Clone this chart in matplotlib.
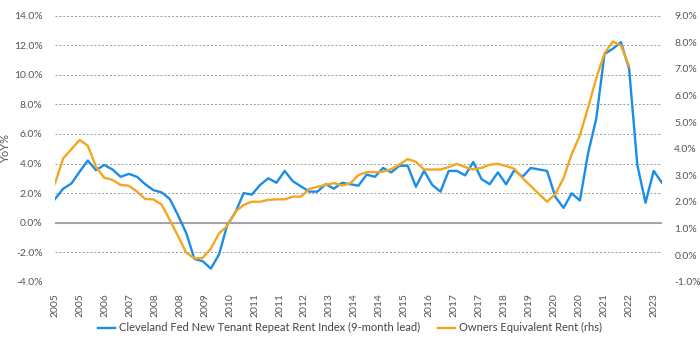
import numpy as np
import matplotlib
matplotlib.use('Agg')
import matplotlib.pyplot as plt
import matplotlib.ticker as ticker

# quarterly series
cleveland_fed = [1.6, 2.3, 2.65, 3.45, 4.2, 3.55, 3.9, 3.6, 3.1, 3.3,
                 3.1, 2.6, 2.2, 2.05, 1.6, 0.5, -0.7, -2.45, -2.6, -3.1,
                 -2.15, -0.15, 0.7, 2.0, 1.9, 2.55, 3.0, 2.7, 3.5, 2.8,
                 2.45, 2.1, 2.1, 2.6, 2.3, 2.7, 2.6, 2.5, 3.25, 3.1,
                 3.7, 3.4, 3.85, 3.85, 2.43, 3.5, 2.55, 2.1, 3.5, 3.5,
                 3.2, 4.1, 2.95, 2.6, 3.4, 2.6, 3.55, 3.1, 3.7, 3.6,
                 3.5, 1.75, 1.0, 1.98, 1.5, 4.7, 7.05, 11.4, 11.75, 12.2,
                 10.4, 3.9, 1.35, 3.5, 2.7]
oer = [2.7, 3.64, 3.98, 4.33, 4.11, 3.32, 2.91, 2.83, 2.64, 2.61,
       2.39, 2.11, 2.1, 1.9, 1.32, 0.72, 0.1, -0.12, -0.1, 0.25,
       0.82, 1.1, 1.64, 1.89, 2.01, 2.01, 2.08, 2.1, 2.1, 2.2,
       2.2, 2.49, 2.57, 2.64, 2.71, 2.62, 2.7, 3.01, 3.12, 3.12,
       3.14, 3.23, 3.41, 3.61, 3.51, 3.22, 3.22, 3.22, 3.31, 3.43,
       3.31, 3.22, 3.28, 3.4, 3.43, 3.35, 3.25, 2.9, 2.6, 2.3,
       2.01, 2.3, 2.89, 3.8, 4.5, 5.55, 6.65, 7.58, 8.02, 7.88,
       7.1]
year_labels = ['2005', '2005', '2006', '2007', '2008', '2008', '2009', '2010',
               '2011', '2011', '2012', '2013', '2014', '2014', '2015', '2016',
               '2017', '2017', '2018', '2019', '2020', '2020', '2021', '2022',
               '2023']

blue = '#1a8de6'
orange = '#f2a71e'
grey_text = '#555555'
plt.rcParams['font.family'] = ['Lato', 'DejaVu Sans']

fig = plt.figure(figsize=(7, 3.5), dpi=100)
ax = fig.add_axes([0.0786, 0.1946, 0.867, 0.761])
ax2 = ax.twinx()

x_blue = np.arange(len(cleveland_fed))
x_oer = np.arange(len(oer))
l1, = ax.plot(x_blue, cleveland_fed, color=blue, linewidth=1.7,
              label='Cleveland Fed New Tenant Repeat Rent Index (9-month lead)', zorder=3)
l2, = ax2.plot(x_oer, oer, color=orange, linewidth=1.7,
               label='Owners Equivalent Rent (rhs)', zorder=2)

ax.set_xlim(0, len(cleveland_fed) - 1)
ax.set_ylim(-4, 14)
ax2.set_ylim(-1, 9)
ax.yaxis.set_major_locator(ticker.MultipleLocator(2))
ax2.yaxis.set_major_locator(ticker.MultipleLocator(1))
ax.yaxis.set_major_formatter(ticker.FuncFormatter(lambda v, p: f'{v:.1f}%'))
ax2.yaxis.set_major_formatter(ticker.FuncFormatter(lambda v, p: f'{v:.1f}%'))

# year labels every ~9 months
ax.set_xticks(np.linspace(0, 73, len(year_labels)))
ax.set_xticklabels(year_labels, rotation=90)

ax.grid(axis='y', color='#9a9a9a', linestyle=(0, (2, 2)), linewidth=0.7)
ax.axhline(0, color='#a9a9b4', linewidth=1.5, zorder=1)

for a in (ax, ax2):
    for s in a.spines.values():
        s.set_visible(False)
    a.tick_params(length=0, labelsize=7.5, colors=grey_text, pad=9)
ax.tick_params(axis='x', pad=8)

ax.set_ylabel('YoY%', color=grey_text, fontsize=8)
ax.yaxis.set_label_coords(-0.072, 0.5)

fig.legend(handles=[l1, l2], loc='center', bbox_to_anchor=(0.5, 0.063), ncol=2,
           frameon=False, fontsize=8, handlelength=1.5, handletextpad=0.4,
           columnspacing=1.6, labelcolor='#444444')

fig.savefig('out.png', dpi=100)
